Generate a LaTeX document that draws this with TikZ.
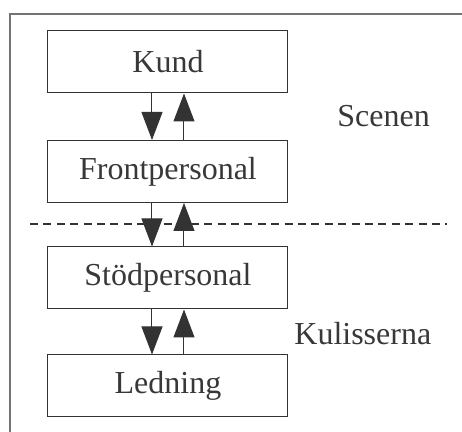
\documentclass[tikz,border=0pt]{standalone}
\usepackage{fontspec}
\setmainfont{Liberation Serif}
\usetikzlibrary{arrows.meta}

\begin{document}
\begin{tikzpicture}[x=0.5pt,y=-0.5pt,
    box/.style={draw=black!80,line width=0.5pt,minimum width=120pt,minimum height=31pt,inner sep=0pt,text=black!78,font=\fontsize{16}{19}\selectfont},
    lbl/.style={text=black!78,font=\fontsize{16}{19}\selectfont,inner sep=0pt,anchor=base west},
    flow/.style={draw=black!80,line width=0.5pt,-{Triangle[length=14pt,width=10.5pt]},fill=black!80}]
      \useasboundingbox (0,0) rectangle (462,432);
      \draw[black!55,line width=1pt] (462,14) -- (10,14) -- (10,432);
      \node[box] (kund) at (168,62) {Kund};
      \node[box] (front) at (168,171.5) {Frontpersonal};
      \node[box] (stod) at (168,278) {Stödpersonal};
      \node[box] (ledning) at (168,386) {Ledning};
      \coordinate (gl) at (30,224);
      \coordinate (gr) at (447,224);
      \draw[black!80,line width=0.9pt,dash pattern=on 4pt off 2.7pt] (gl) -- (gr);
      \node[lbl] (scenen) at (337,127) {Scenen};
      \node[lbl] (kulisser) at (294,345) {Kulisserna};
      \draw[flow] ([xshift=-8pt]kund.south) -- ([xshift=-8pt]front.north);
      \draw[flow] ([xshift=8pt]front.north) -- ([xshift=8pt]kund.south);
      \draw[flow] ([xshift=-8pt]front.south) -- ([xshift=-8pt]stod.north);
      \draw[flow] ([xshift=8pt]stod.north) -- ([xshift=8pt]front.south);
      \draw[flow] ([xshift=-8pt]stod.south) -- ([xshift=-8pt]ledning.north);
      \draw[flow] ([xshift=8pt]ledning.north) -- ([xshift=8pt]stod.south);
    \end{tikzpicture}
\end{document}
